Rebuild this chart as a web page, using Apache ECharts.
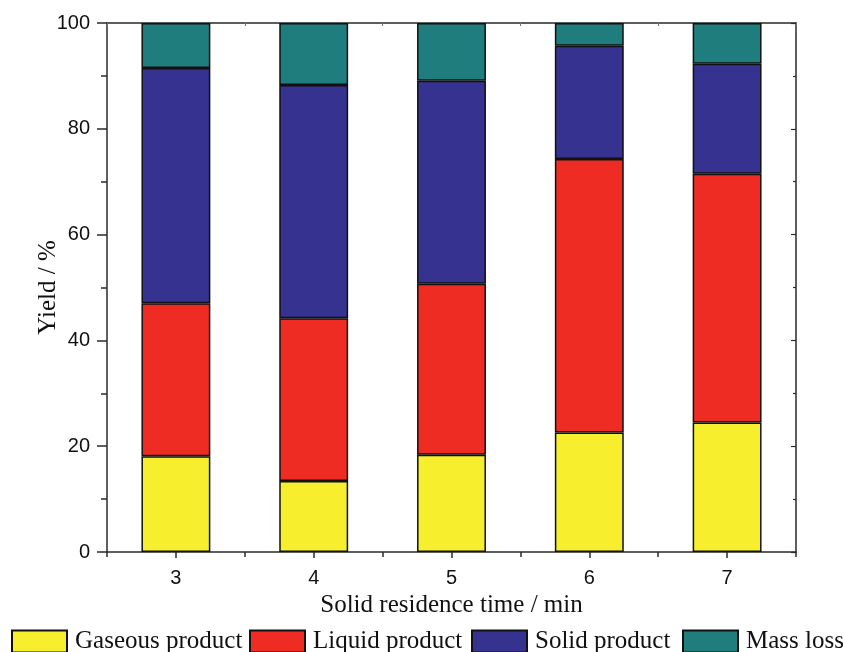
<!DOCTYPE html>
<html>
<head>
<meta charset="utf-8">
<script src="https://cdn.jsdelivr.net/npm/echarts@6/dist/echarts.min.js"></script>
<style>
html,body{margin:0;padding:0;background:#fff;}
#chart{width:843px;height:652px;}
</style>
</head>
<body>
<div id="chart"></div>
<script>
var categories = ['3', '4', '5', '6', '7'];
var gaseous = [18.1, 13.4, 18.4, 22.6, 24.5];
var liquid  = [28.9, 30.8, 32.3, 51.7, 47.0];
var solid   = [44.5, 44.1, 38.4, 21.4, 20.8];
var massLoss = [8.5, 11.7, 10.9, 4.3, 7.7];
var seriesNames = ['Gaseous product', 'Liquid product', 'Solid product', 'Mass loss'];
var colors = ['#F7EE2E', '#EE2C24', '#35338F', '#1F7E7D'];
var yTicks = [0, 20, 40, 60, 80, 100];

var chart = echarts.init(document.getElementById('chart'), null, {renderer: 'canvas'});
var serif = 'Liberation Serif';
var sans = 'Liberation Sans';
var axisColor = '#2a2a2a';

function mkLegend(name, left) {
  return {
    data: [name], left: left, top: 629, padding: 0,
    itemWidth: 55, itemHeight: 22, icon: 'rect',
    selectedMode: false,
    textStyle: {fontFamily: serif, fontSize: 25, color: '#111', padding: [2, 0, 0, 3]}
  };
}

var allData = [gaseous, liquid, solid, massLoss];
var series = seriesNames.map(function (n, i) {
  return {
    name: n, type: 'bar', stack: 'total', barWidth: '50%',
    xAxisIndex: 0, yAxisIndex: 0,
    data: allData[i],
    itemStyle: {color: colors[i], borderColor: '#111', borderWidth: 1.5},
    emphasis: {disabled: true}
  };
});

var option = {
  animation: false,
  backgroundColor: '#fff',
  grid: {left: 107, right: 47, top: 23, bottom: 100, containLabel: false},
  legend: [
    mkLegend(seriesNames[0], 11),
    mkLegend(seriesNames[1], 249),
    mkLegend(seriesNames[2], 471),
    mkLegend(seriesNames[3], 682)
  ],
  xAxis: [
    {
      type: 'category', position: 'bottom', data: categories,
      name: 'Solid residence time / min', nameLocation: 'middle', nameGap: 41,
      nameMoveOverlap: false,
      nameTextStyle: {fontFamily: serif, fontSize: 25, color: '#111'},
      axisLine: {show: true, lineStyle: {color: axisColor, width: 1.5}},
      axisTick: {show: true, alignWithLabel: true, length: 6, lineStyle: {color: axisColor, width: 1.5}},
      axisLabel: {fontFamily: sans, fontSize: 20, color: '#111', margin: 16},
      splitLine: {show: false}
    },
    {
      type: 'category', position: 'bottom', data: categories,
      axisLine: {show: false},
      axisTick: {show: true, alignWithLabel: false, length: 5, lineStyle: {color: axisColor, width: 1.5}},
      axisLabel: {show: false}, splitLine: {show: false}
    },
    {
      type: 'category', position: 'top', data: categories,
      axisLine: {show: true, lineStyle: {color: axisColor, width: 1.5}},
      axisTick: {show: true, inside: true, alignWithLabel: false, length: 3, lineStyle: {color: '#777', width: 1}},
      axisLabel: {show: false}, splitLine: {show: false}
    },
    {
      type: 'category', position: 'top', data: categories,
      axisLine: {show: false},
      axisTick: {show: true, inside: true, alignWithLabel: true, length: 3, lineStyle: {color: '#777', width: 1}},
      axisLabel: {show: false}, splitLine: {show: false}
    }
  ],
  yAxis: [
    {
      type: 'value', position: 'left', min: yTicks[0], max: yTicks[yTicks.length - 1], interval: 20,
      name: 'Yield / %', nameLocation: 'middle', nameGap: 46,
      nameMoveOverlap: false,
      nameTextStyle: {fontFamily: serif, fontSize: 25, color: '#111'},
      axisLine: {show: true, lineStyle: {color: axisColor, width: 1.5}},
      axisTick: {show: true, length: 10, lineStyle: {color: axisColor, width: 1.5}},
      minorTick: {show: true, splitNumber: 2, length: 6, lineStyle: {color: axisColor, width: 1.5}},
      axisLabel: {fontFamily: sans, fontSize: 20, color: '#111', margin: 17},
      splitLine: {show: false}, minorSplitLine: {show: false}
    },
    {
      type: 'value', position: 'right', min: yTicks[0], max: yTicks[yTicks.length - 1], interval: 20,
      axisLine: {show: true, lineStyle: {color: axisColor, width: 1.5}},
      axisTick: {show: true, inside: true, length: 5, lineStyle: {color: axisColor, width: 1.2}},
      minorTick: {show: true, splitNumber: 2, length: 3, lineStyle: {color: axisColor, width: 1.2}},
      axisLabel: {show: false},
      splitLine: {show: false}, minorSplitLine: {show: false}
    }
  ],
  series: series
};
chart.setOption(option);
</script>
</body>
</html>
